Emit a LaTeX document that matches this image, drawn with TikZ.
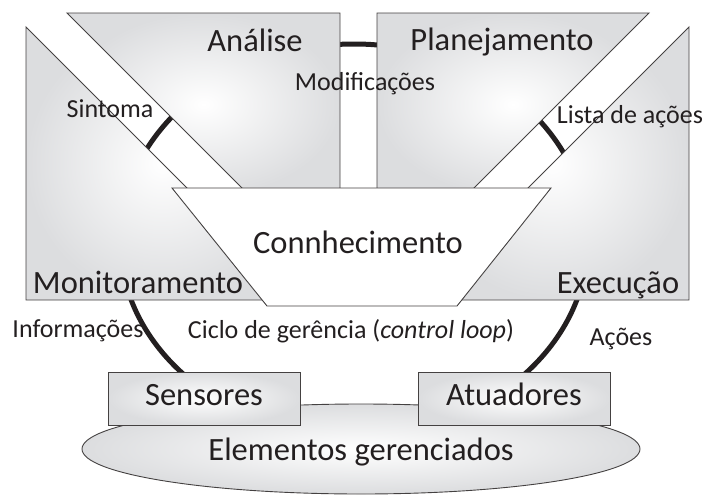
\documentclass[tikz,border=0pt]{standalone}
\usepackage{fontspec}
\setmainfont{Carlito}
\usetikzlibrary{shapes.geometric}

\definecolor{ink}{RGB}{35,31,32}
\definecolor{panel}{RGB}{220,221,223}

\tikzset{
  stage/.style={draw=ink!85, line width=0.9pt, inner color=white, outer color=panel},
  loopline/.style={draw=ink, line width=5pt},
  bigtext/.style={text=ink, font=\fontsize{32.5}{36}\selectfont, inner sep=0pt, anchor=base},
  smalltext/.style={text=ink, font=\fontsize{26}{30}\selectfont, inner sep=0pt, anchor=base},
  devbox/.style={stage, minimum width=192pt, minimum height=53pt, text height=21pt, text depth=8pt,
    text=ink, font=\fontsize{32.5}{36}\selectfont},
}

\begin{document}
\begin{tikzpicture}[x=1pt,y=-1pt]
\useasboundingbox (0,0) rectangle (705,496);

% ciclo de gerencia, visible only in the gaps
\coordinate (loopc) at (354,240);
\draw [loopline] (loopc) ellipse [x radius=234pt, y radius=196pt];

% the four stages
\draw [stage] (67,13) -- (340,13) -- (340,196) -- (250,196) -- cycle;
\draw [stage] (377,13) -- (649,13) -- (466,196) -- (377,196) -- cycle;
\draw [stage] (26,27) -- (26,300) -- (299,300) -- cycle;
\draw [stage] (689,27) -- (689,300) -- (416,300) -- cycle;
\draw [draw=ink!85, line width=0.9pt, fill=white] (172,188) -- (551,188) -- (457,306) -- (267,306) -- cycle;

% managed resource
\node [stage, ellipse, minimum width=558pt, minimum height=90pt, inner sep=0pt,
  text=ink, font=\fontsize{32.5}{36}\selectfont, text height=24pt, text depth=2pt]
  (elem) at (361,449) {Elementos gerenciados};
\node [devbox] (sens) at (204,398.5) {Sensores};
\node [devbox] (atua) at (514,398.5) {Atuadores};

% labels
\node [bigtext] (anal) at (255,51) {Análise};
\node [bigtext] (plan) at (502,50) {Planejamento};
\node [bigtext] (conh) at (358,253) {Connhecimento};
\node [bigtext] (moni) at (138,293) {Monitoramento};
\node [bigtext] (exec) at (618,293) {Execução};
\node [smalltext] (modi) at (365,90) {Modificações};
\node [smalltext] (sint) at (110,117) {Sintoma};
\node [smalltext] (list) at (630,123) {Lista de ações};
\node [smalltext] (info) at (78,337) {Informações};
\node [smalltext] (cicl) at (351,338) {Ciclo de gerência (\textit{control loop})};
\node [smalltext] (acoe) at (621,345) {Ações};
\end{tikzpicture}
\end{document}
